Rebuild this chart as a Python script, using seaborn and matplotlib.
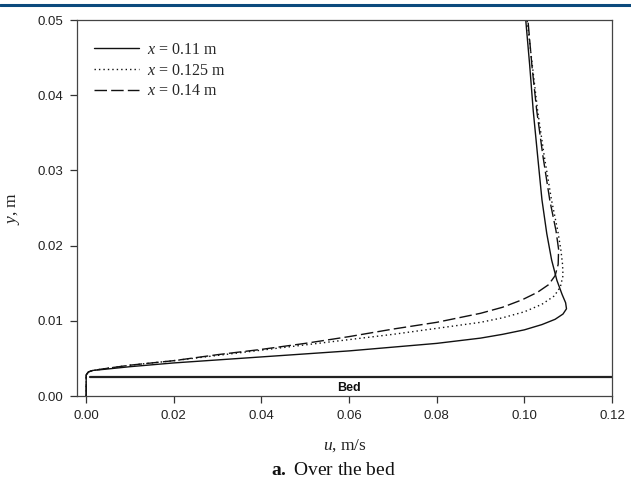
import numpy as np
import pandas as pd
import seaborn as sns
import matplotlib
matplotlib.use("Agg")
import matplotlib.pyplot as plt
from matplotlib.lines import Line2D

# ---- data ----
u_011 = [0, 0, 0.0005, 0.0015, 0.005, 0.01, 0.02, 0.03, 0.04, 0.05, 0.06, 0.07, 0.08, 0.09, 0.095,
         0.100, 0.1040, 0.1070, 0.1088, 0.1096, 0.1094, 0.1086, 0.1074, 0.1062, 0.1051, 0.1040,
         0.1030, 0.1020, 0.1012, 0.1003]
y_011 = [0, 0.0028, 0.0032, 0.0034, 0.0036, 0.0039, 0.0044, 0.0048, 0.0052, 0.0056, 0.0060, 0.0065,
         0.0070, 0.0077, 0.0082, 0.0088, 0.0095, 0.0102, 0.0109, 0.0116, 0.0124, 0.0135, 0.0154,
         0.0181, 0.0216, 0.0261, 0.032, 0.038, 0.044, 0.05]

u_0125 = [0, 0, 0.0005, 0.0015, 0.005, 0.01, 0.02, 0.03, 0.04, 0.05, 0.06, 0.07, 0.08, 0.09, 0.095,
          0.100, 0.1040, 0.1068, 0.1082, 0.1088, 0.1087, 0.1083, 0.1076, 0.1062, 0.1045, 0.1030,
          0.1018, 0.1006]
y_0125 = [0, 0.0028, 0.0032, 0.0034, 0.0037, 0.0041, 0.0047, 0.0054, 0.0061, 0.0068, 0.0075, 0.0082,
          0.0090, 0.0098, 0.0104, 0.0112, 0.0122, 0.0133, 0.0145, 0.0160, 0.0175, 0.0195, 0.0220,
          0.026, 0.032, 0.038, 0.044, 0.05]

u_014 = [0, 0, 0.0005, 0.0015, 0.005, 0.01, 0.02, 0.03, 0.04, 0.05, 0.06, 0.07, 0.08, 0.09, 0.095,
         0.0995, 0.1030, 0.1055, 0.1070, 0.1077, 0.1078, 0.1072, 0.1058, 0.1042, 0.1028, 0.1017,
         0.1008]
y_014 = [0, 0.0028, 0.0032, 0.0034, 0.0037, 0.0041, 0.0047, 0.0055, 0.0062, 0.0070, 0.0079, 0.0089,
         0.0098, 0.0110, 0.0118, 0.0128, 0.0138, 0.0148, 0.0160, 0.0175, 0.0195, 0.0220, 0.026,
         0.032, 0.038, 0.044, 0.05]

series_names = ["$x$ = 0.11 m", "$x$ = 0.125 m", "$x$ = 0.14 m"]
bed_height = 0.0025

x_ticks = [0.00, 0.02, 0.04, 0.06, 0.08, 0.10, 0.12]
y_ticks = [0.00, 0.01, 0.02, 0.03, 0.04, 0.05]

sns.set_theme(style="ticks")
plt.rcParams["font.family"] = ["Liberation Sans", "DejaVu Sans"]
plt.rcParams["mathtext.fontset"] = "custom"
plt.rcParams["mathtext.rm"] = "Liberation Serif"
plt.rcParams["mathtext.it"] = "Liberation Serif:italic"
plt.rcParams["mathtext.bf"] = "Liberation Serif:bold"

SERIF = ["Liberation Serif", "DejaVu Serif"]

fig = plt.figure(figsize=(6.31, 4.88), dpi=100)
ax = fig.add_axes([0.122, 0.1885, 0.848, 0.7705])

dash_styles = [None, (1, 2.2), (9, 3)]
for name, uu, yy, ds in zip(series_names, [u_011, u_0125, u_014], [y_011, y_0125, y_014], dash_styles):
    sub = pd.DataFrame({"u": uu, "y": yy})
    sns.lineplot(data=sub, x="u", y="y", sort=False, estimator=None, ax=ax,
                 color="#111111", linewidth=1.0)
    if ds is not None:
        ax.lines[-1].set_dashes(ds)

# bed
ax.plot([0.0008, 0.12], [bed_height, bed_height], color="#222222", linewidth=1.6)
ax.text(0.06, 0.0011, "Bed", ha="center", va="center", fontsize=9, fontweight="bold",
        color="#111111")

ax.set_xlim(-0.0021, 0.12)
ax.set_ylim(0, 0.05)
ax.set_xticks(x_ticks)
ax.set_yticks(y_ticks)
ax.set_xticklabels([f"{v:.2f}" for v in x_ticks])
ax.set_yticklabels([f"{v:.2f}" for v in y_ticks])
ax.tick_params(axis="both", direction="out", length=5, width=0.9, labelsize=9.5,
               colors="#333333", labelcolor="#222222", pad=5)
for s in ax.spines.values():
    s.set_visible(True)
    s.set_linewidth(0.9)
    s.set_color("#444444")

ax.set_xlabel("$u$, m/s", fontsize=12.5, labelpad=11, color="#222222", family=SERIF)
ax.set_ylabel("$y$, m", fontsize=12.5, labelpad=11, color="#222222", family=SERIF)

handles = [Line2D([], [], color="#111111", lw=1.0),
           Line2D([], [], color="#111111", lw=1.0, dashes=(1, 2.2)),
           Line2D([], [], color="#111111", lw=1.0, dashes=(9, 3))]
ax.legend(handles, series_names, loc="upper left", bbox_to_anchor=(0.005, 0.98),
          frameon=False, prop={"family": SERIF, "size": 11.5}, handlelength=2.8,
          handletextpad=0.5, labelspacing=0.3)

fig.text(0.528, 0.035, r"$\mathbf{a.}$ Over the bed", ha="center", va="center", fontsize=14,
         family=SERIF, color="#111111")

# top blue rule
fig.add_artist(Line2D([0, 1], [0.990, 0.990], transform=fig.transFigure,
                      color="#0b4a7d", linewidth=2.2))

fig.savefig("out.png", dpi=100)
